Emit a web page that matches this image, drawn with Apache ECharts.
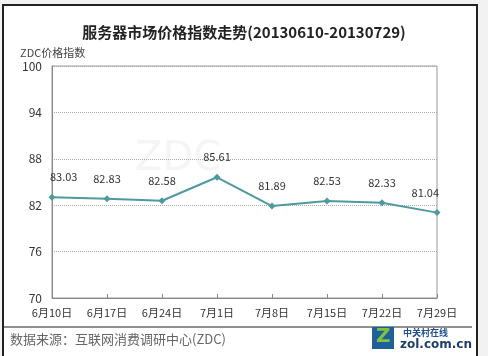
<!DOCTYPE html>
<html><head><meta charset="utf-8">
<script src="https://cdn.jsdelivr.net/npm/echarts@6/dist/echarts.min.js"></script>
<style>html,body{margin:0;padding:0;background:#f2f2f2;}#c{width:488px;height:356px;}</style>
</head><body><div id="c"></div>
<script>
var categories = ['6月10日','6月17日','6月24日','7月1日','7月8日','7月15日','7月22日','7月29日'];
var values = [83.03, 82.83, 82.58, 85.61, 81.89, 82.53, 82.33, 81.04];
var yTicks = [70, 76, 82, 88, 94, 100];
var titleText = '服务器市场价格指数走势(20130610-20130729)';
var yName = 'ZDC价格指数';
var sourceText = '数据来源：互联网消费调研中心(ZDC)';

var chart = echarts.init(document.getElementById('c'));
var font = '"Noto Sans CJK SC", "DejaVu Sans", sans-serif';
var seriesData = values.map(function(v, i){
  var d = {value: v};
  if (i === 0) d.label = {align: 'left', offset: [-2, 0]};
  if (i === values.length - 1) d.label = {align: 'right', offset: [2, 0]};
  return d;
});
chart.setOption({
  backgroundColor: '#f2f2f2',
  animation: false,
  graphic: [
    {type:'rect', z:-10, shape:{x:3,y:5,width:474,height:360}, style:{fill:'#ffffff', stroke:'#222', lineWidth:2}},
    {type:'line', z:1, shape:{x1:4,y1:327,x2:472,y2:327}, style:{stroke:'#222', lineWidth:1.2}},
    {type:'text', left:10, top:333, style:{text:sourceText, fill:'#666', font:'13px ' + font}},
    {type:'text', left:135, top:140, z:0, style:{text:'ZDC', fill:'rgba(200,200,200,0.18)', font:'40px "DejaVu Sans"'}},
    {type:'rect', z:2, shape:{x:372,y:327,width:22,height:22}, style:{fill:'#1f5f9a'}},
    {type:'text', z:3, left:376, top:327, style:{text:'Z', fill:'#7ec242', font:'bold 20px "DejaVu Sans"'}},
    {type:'text', z:3, left:403, top:328, style:{text:'中关村在线', fill:'#1f4f8a', font:'bold 9px ' + font}},
    {type:'text', z:3, left:400, top:339, style:{text:'zol.com.cn', fill:'#1f3f6a', font:'bold 12px "DejaVu Sans"'}}
  ],
  title: {
    text: titleText, left: 'center', top: 20,
    textStyle: {fontSize: 15, fontWeight: 'bold', color: '#222', fontFamily: font}
  },
  grid: {left: 52, right: 51, top: 66, bottom: 58, show: true, borderColor: '#999', borderWidth: 1, backgroundColor: 'transparent'},
  xAxis: {
    type: 'category', data: categories, boundaryGap: false,
    axisLine: {lineStyle: {color: '#888'}},
    axisTick: {show: true, inside: true, length: 4, lineStyle: {color: '#888'}},
    axisLabel: {color: '#333', fontSize: 11, margin: 9, fontFamily: font, interval: 0}
  },
  yAxis: {
    type: 'value', min: 70, max: 100, interval: 6,
    name: yName, nameLocation: 'end', nameGap: 8,
    nameTextStyle: {color: '#444', fontSize: 11, fontFamily: font, align: 'left', padding: [0,0,0,-32]},
    axisLine: {show: true, lineStyle: {color: '#888'}},
    axisTick: {show: false},
    axisLabel: {color: '#333', fontSize: 12, margin: 10, fontFamily: font,
      formatter: function(v){ return yTicks.indexOf(v) >= 0 ? String(v) : ''; }},
    splitLine: {show: true, lineStyle: {color: '#aaa', type: 'dotted'}}
  },
  series: [{
    type: 'line', data: seriesData,
    symbol: 'diamond', symbolSize: 7,
    lineStyle: {color: '#4f9a9c', width: 2},
    itemStyle: {color: '#4f9a9c'},
    label: {show: true, position: 'top', distance: 11, color: '#333', fontSize: 11, fontFamily: font,
      formatter: function(p){ return p.value.toFixed(2); }}
  }]
});
</script></body></html>
